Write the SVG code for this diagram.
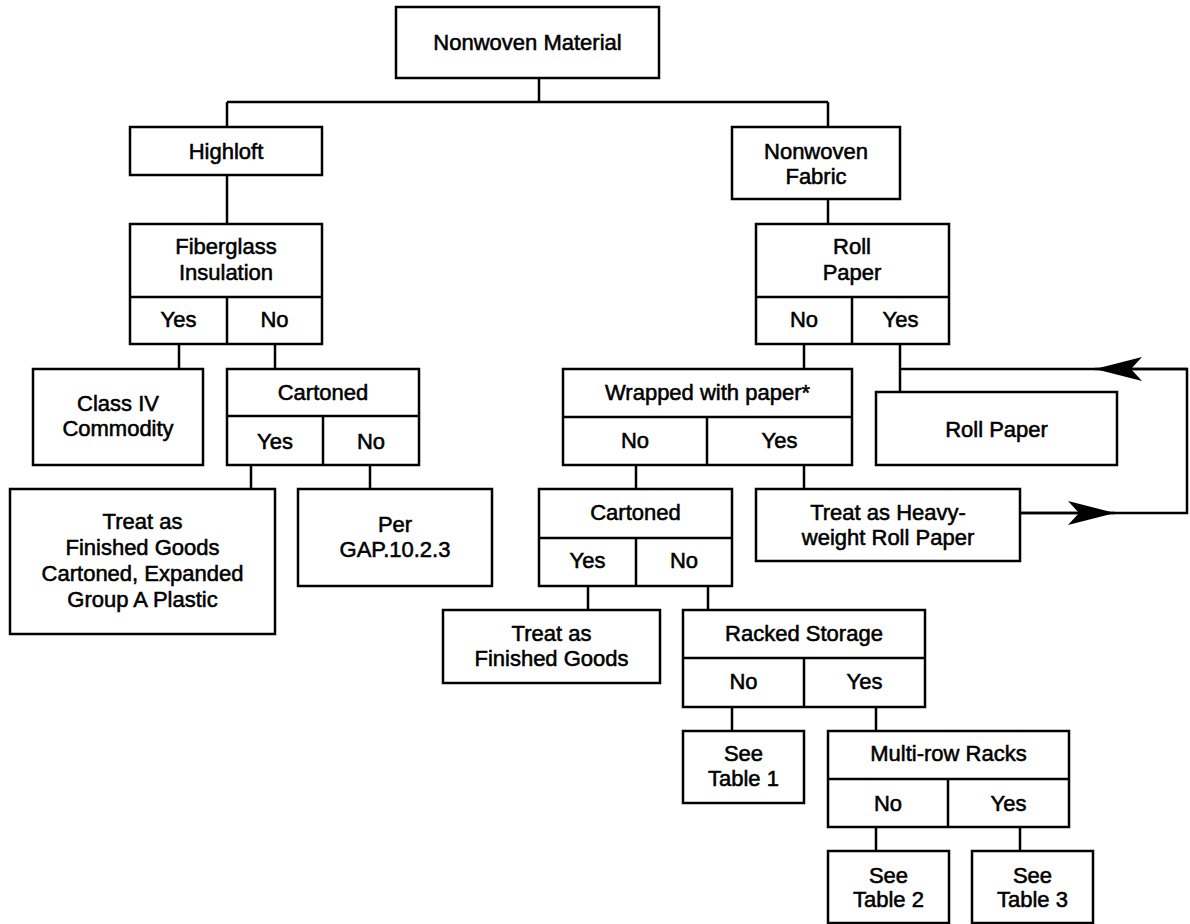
<svg xmlns="http://www.w3.org/2000/svg" width="1190" height="924" viewBox="0 0 1190 924">
<style>
.b { fill: #fff; stroke: #000; stroke-width: 2.5; }
.d, .c { fill: none; stroke: #000; stroke-width: 2.5; }
text { font-family: "Liberation Sans", Arial, sans-serif; font-size: 22px; fill: #000; stroke: #000; stroke-width: 0.55; text-anchor: middle; }
</style>
<defs>
<marker id="ah" markerUnits="userSpaceOnUse" markerWidth="50" markerHeight="30" viewBox="-48 -13 50 26" refX="0" refY="0" orient="auto">
<path d="M0,0 L-47,-12 L-36,0 L-47,12 Z" fill="#000"/>
</marker>
</defs>
<g id="connectors">
<path class="c" d="M539,78 V102 M227,102 H828 M227,102 V127 M828,102 V127 M227,175 V224 M828,199 V224"/>
<path class="c" d="M179,344 V369 M275,344 V369 M251,465 V489 M370,465 V489"/>
<path class="c" d="M804,344 V369 M900,344 V392 M636,465 V489 M804,465 V489"/>
<path class="c" d="M588,586 V610 M708,586 V610 M732,707 V731 M876,707 V731 M876,827 V851 M1020,827 V851"/>
<path class="c" d="M1020,513 H1187 V369 H900"/>
<path class="c" d="M1020,513 H1115" marker-end="url(#ah)"/>
<path class="c" d="M1187,369 H1095" marker-end="url(#ah)"/>
</g>
<g id="n-nonwoven-material">
<rect class="b" x="396" y="7" width="263" height="71"/>
<text x="527.5" y="50">Nonwoven Material</text>
</g>
<g id="n-highloft">
<rect class="b" x="130" y="127" width="192" height="48"/>
<text x="226" y="159">Highloft</text>
</g>
<g id="n-nonwoven-fabric">
<rect class="b" x="732" y="127" width="168" height="72"/>
<text x="816" y="159">Nonwoven</text>
<text x="816" y="184">Fabric</text>
</g>
<g id="n-fiberglass">
<rect class="b" x="130" y="224" width="192" height="120"/>
<path class="d" d="M130,297 H322 M227,297 V344"/>
<text x="226" y="254">Fiberglass</text>
<text x="226" y="280">Insulation</text>
<text x="178.5" y="327">Yes</text>
<text x="274.5" y="327">No</text>
</g>
<g id="n-roll-paper-q">
<rect class="b" x="756" y="224" width="193" height="120"/>
<path class="d" d="M756,297 H949 M852,297 V344"/>
<text x="852" y="254">Roll</text>
<text x="852" y="280">Paper</text>
<text x="804" y="327">No</text>
<text x="900.5" y="327">Yes</text>
</g>
<g id="n-class-iv">
<rect class="b" x="33" y="369" width="170" height="96"/>
<text x="118" y="411">Class IV</text>
<text x="118" y="436">Commodity</text>
</g>
<g id="n-cartoned-1">
<rect class="b" x="227" y="369" width="192" height="96"/>
<path class="d" d="M227,416 H419 M323,416 V465"/>
<text x="323" y="400">Cartoned</text>
<text x="275" y="449">Yes</text>
<text x="371" y="449">No</text>
</g>
<g id="n-treat-expanded">
<rect class="b" x="10" y="489" width="265" height="145"/>
<text x="142.5" y="529">Treat as</text>
<text x="142.5" y="555">Finished Goods</text>
<text x="142.5" y="581">Cartoned, Expanded</text>
<text x="142.5" y="607">Group A Plastic</text>
</g>
<g id="n-per-gap">
<rect class="b" x="298" y="489" width="194" height="97"/>
<text x="395" y="532">Per</text>
<text x="395" y="557">GAP.10.2.3</text>
</g>
<g id="n-wrapped">
<rect class="b" x="563" y="369" width="289" height="96"/>
<path class="d" d="M563,417 H852 M707,417 V465"/>
<text x="707.5" y="400">Wrapped with paper*</text>
<text x="635" y="448">No</text>
<text x="779.5" y="448">Yes</text>
</g>
<g id="n-roll-paper">
<rect class="b" x="876" y="392" width="241" height="73"/>
<text x="996.5" y="437">Roll Paper</text>
</g>
<g id="n-heavy-weight">
<rect class="b" x="756" y="489" width="264" height="72"/>
<text x="888" y="520">Treat as Heavy-</text>
<text x="888" y="545">weight Roll Paper</text>
</g>
<g id="n-cartoned-2">
<rect class="b" x="539" y="489" width="193" height="97"/>
<path class="d" d="M539,538 H732 M636,538 V586"/>
<text x="635.5" y="520">Cartoned</text>
<text x="587.5" y="568">Yes</text>
<text x="684" y="568">No</text>
</g>
<g id="n-finished-goods">
<rect class="b" x="443" y="610" width="217" height="73"/>
<text x="551.5" y="641">Treat as</text>
<text x="551.5" y="666">Finished Goods</text>
</g>
<g id="n-racked">
<rect class="b" x="683" y="610" width="242" height="97"/>
<path class="d" d="M683,658 H925 M804,658 V707"/>
<text x="804" y="641">Racked Storage</text>
<text x="743.5" y="689">No</text>
<text x="864.5" y="689">Yes</text>
</g>
<g id="n-table-1">
<rect class="b" x="683" y="731" width="121" height="72"/>
<text x="743.5" y="761">See</text>
<text x="743.5" y="786">Table 1</text>
</g>
<g id="n-multirow">
<rect class="b" x="828" y="731" width="241" height="96"/>
<path class="d" d="M828,779 H1069 M948,779 V827"/>
<text x="948.5" y="761">Multi-row Racks</text>
<text x="888" y="811">No</text>
<text x="1008.5" y="811">Yes</text>
</g>
<g id="n-table-2">
<rect class="b" x="828" y="851" width="121" height="72"/>
<text x="888.5" y="883">See</text>
<text x="888.5" y="907">Table 2</text>
</g>
<g id="n-table-3">
<rect class="b" x="972" y="851" width="121" height="72"/>
<text x="1032.5" y="883">See</text>
<text x="1032.5" y="907">Table 3</text>
</g>
</svg>
